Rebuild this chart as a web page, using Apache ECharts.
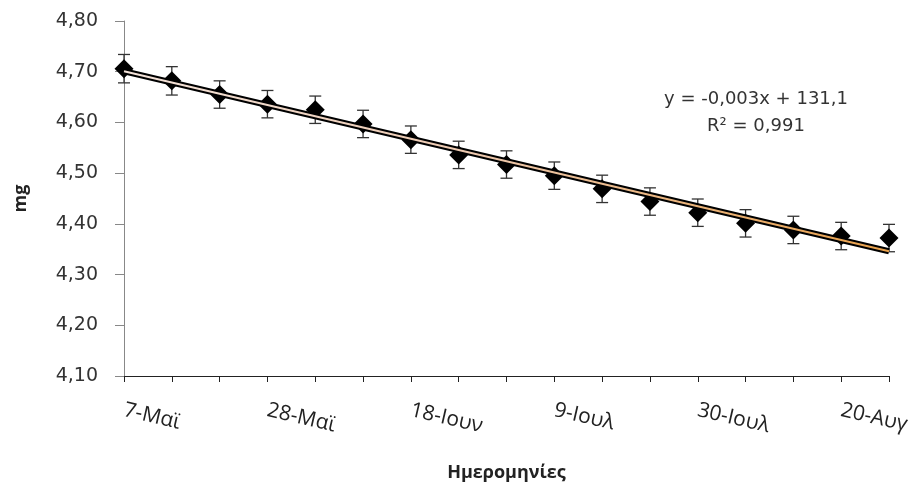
<!DOCTYPE html>
<html>
<head>
<meta charset="utf-8">
<script src="https://cdn.jsdelivr.net/npm/echarts@6/dist/echarts.min.js"></script>
<style>
  html, body { margin: 0; padding: 0; background: #fff; }
  #chart { width: 921px; height: 483px; }
</style>
</head>
<body>
<div id="chart"></div>
<script>
// weekly sampling dates
const dates = ['7-Μαϊ', '14-Μαϊ', '21-Μαϊ', '28-Μαϊ', '4-Ιουν', '11-Ιουν', '18-Ιουν', '25-Ιουν',
  '2-Ιουλ', '9-Ιουλ', '16-Ιουλ', '23-Ιουλ', '30-Ιουλ', '6-Αυγ', '13-Αυγ', '20-Αυγ', '27-Αυγ'];
// mean values (mg)
const values = [4.706, 4.682, 4.655, 4.636, 4.625, 4.597, 4.566, 4.536, 4.517,
  4.495, 4.469, 4.444, 4.422, 4.401, 4.388, 4.376, 4.372];
// error bar half-widths
const errors = [0.028, 0.028, 0.027, 0.027, 0.027, 0.027, 0.027, 0.027, 0.027,
  0.027, 0.027, 0.027, 0.027, 0.027, 0.027, 0.027, 0.027];
// trendline at first and last date
const trendEnds = [4.701, 4.346];
const yTicks = { min: 4.1, max: 4.8, step: 0.1 };

const trend = dates.map((d, i) => i === 0 ? trendEnds[0] : (i === dates.length - 1 ? trendEnds[1] : null));

const chart = echarts.init(document.getElementById('chart'));
const option = {
  backgroundColor: '#fff',
  animation: false,
  grid: { left: 124, right: 32, top: 21, bottom: 107, outerBoundsMode: 'none' },
  xAxis: {
    type: 'category',
    data: dates,
    boundaryGap: false,
    name: 'Ημερομηνίες',
    nameLocation: 'middle',
    nameGap: 88,
    nameTextStyle: { fontFamily: 'Open Sans', fontWeight: 'bold', fontSize: 18, color: '#222' },
    axisLine: { lineStyle: { color: '#222', width: 1 } },
    axisTick: { interval: 0, length: 6, lineStyle: { color: '#222' } },
    axisLabel: {
      interval: 2, rotate: -13, margin: 34,
      fontFamily: 'Open Sans', fontSize: 21, color: '#222'
    }
  },
  yAxis: {
    type: 'value',
    min: yTicks.min, max: yTicks.max, interval: yTicks.step,
    name: 'mg',
    nameLocation: 'middle',
    nameGap: 94,
    nameTextStyle: { fontFamily: 'Open Sans', fontWeight: 'bold', fontSize: 18, color: '#222' },
    axisLine: { show: true, lineStyle: { color: '#888' } },
    axisTick: { show: true, length: 9, lineStyle: { color: '#888' } },
    splitLine: { show: false },
    axisLabel: {
      margin: 26, fontFamily: 'DejaVu Sans', fontSize: 19, color: '#333',
      formatter: v => v.toFixed(2).replace('.', ',')
    }
  },
  series: [
    {
      type: 'custom',
      z: 1,
      data: values.map((v, i) => [i, v, errors[i]]),
      renderItem: (params, api) => {
        const i = api.value(0), v = api.value(1), e = api.value(2);
        const top = api.coord([i, v + e]);
        const bot = api.coord([i, v - e]);
        const w = 6;
        const st = { stroke: '#333', lineWidth: 1.3 };
        return {
          type: 'group',
          children: [
            { type: 'line', shape: { x1: top[0], y1: top[1], x2: bot[0], y2: bot[1] }, style: st },
            { type: 'line', shape: { x1: top[0] - w, y1: top[1], x2: top[0] + w, y2: top[1] }, style: st },
            { type: 'line', shape: { x1: bot[0] - w, y1: bot[1], x2: bot[0] + w, y2: bot[1] }, style: st }
          ]
        };
      }
    },
    {
      type: 'scatter',
      z: 2,
      data: values,
      symbol: 'diamond',
      symbolSize: [19, 19],
      itemStyle: { color: '#000', opacity: 1 }
    },
    {
      type: 'line',
      z: 3,
      data: trend,
      connectNulls: true,
      showSymbol: false,
      lineStyle: { color: '#000', width: 6 }
    },
    {
      type: 'line',
      z: 4,
      data: trend,
      connectNulls: true,
      showSymbol: false,
      lineStyle: {
        width: 2,
        color: new echarts.graphic.LinearGradient(0, 0, 1, 0, [
          { offset: 0, color: '#f3e3da' },
          { offset: 0.45, color: '#edc9b0' },
          { offset: 1, color: '#e8a04a' }
        ])
      }
    }
  ],
  graphic: [
    {
      type: 'text',
      x: 756, y: 86,
      style: {
        text: 'y = -0,003x + 131,1\nR² = 0,991',
        align: 'center', verticalAlign: 'top', lineHeight: 27,
        fontFamily: 'DejaVu Sans', fontSize: 18, fill: '#333'
      }
    }
  ]
};
option && chart.setOption(option);
</script>
</body>
</html>
